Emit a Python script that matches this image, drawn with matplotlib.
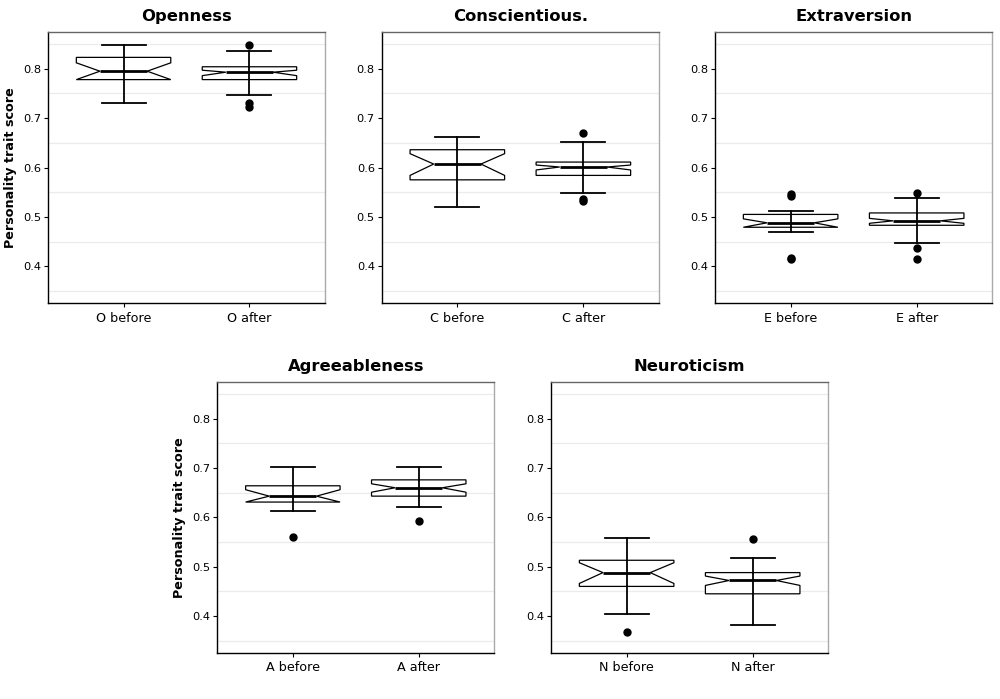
import matplotlib.pyplot as plt

# Boxplot-Kennwerte (je Merkmal: vorher, nachher)
titles = ["Openness", "Conscientious.", "Extraversion", "Agreeableness", "Neuroticism"]
letters = ["O", "C", "E", "A", "N"]
groups = ["before", "after"]

whishi = [[0.849, 0.836], [0.661, 0.652], [0.511, 0.538], [0.703, 0.703], [0.559, 0.518]]
q3 = [[0.823, 0.804], [0.636, 0.611], [0.505, 0.508], [0.664, 0.676], [0.513, 0.488]]
cihi = [[0.812, 0.797], [0.628, 0.605], [0.496, 0.497], [0.656, 0.668], [0.508, 0.481]]
med = [[0.795, 0.793], [0.607, 0.601], [0.488, 0.492], [0.643, 0.660], [0.488, 0.472]]
cilo = [[0.778, 0.786], [0.584, 0.595], [0.479, 0.487], [0.631, 0.651], [0.466, 0.462]]
q1 = [[0.778, 0.778], [0.575, 0.584], [0.479, 0.483], [0.631, 0.643], [0.460, 0.445]]
whislo = [[0.731, 0.746], [0.521, 0.548], [0.470, 0.447], [0.612, 0.621], [0.404, 0.382]]
fliers = [
    [[], [0.849, 0.731, 0.722]],
    [[], [0.669, 0.537, 0.533]],
    [[0.547, 0.543, 0.417, 0.414], [0.548, 0.437, 0.414]],
    [[0.560], [0.592]],
    [[0.367], [0.557]],
]

yticks = [0.4, 0.5, 0.6, 0.7, 0.8]
ygrid = [0.35, 0.45, 0.55, 0.65, 0.75, 0.85]

W, H = 1000, 699
# Achsenpositionen in Pixeln: links, oben, rechts, unten
boxes_px = [
    (48, 31.7, 325, 303.3),
    (381.7, 31.7, 659, 303.3),
    (715, 31.7, 992.3, 303.3),
    (217.3, 381.7, 494.3, 653),
    (551, 381.7, 828.3, 653),
]

fig = plt.figure(figsize=(W / 100, H / 100), dpi=100)
plt.rcParams['font.family'] = ['DejaVu Sans']

for i in range(5):
    l, t, r, b = boxes_px[i]
    ax = fig.add_axes([l / W, (H - b) / H, (r - l) / W, (b - t) / H])
    stats = []
    for j in range(2):
        stats.append({
            'label': letters[i] + " " + groups[j],
            'q1': q1[i][j], 'med': med[i][j], 'q3': q3[i][j],
            'whislo': whislo[i][j], 'whishi': whishi[i][j],
            'cilo': cilo[i][j], 'cihi': cihi[i][j],
            'fliers': fliers[i][j],
        })
    pos = [1, 2]
    ax.bxp(stats, positions=pos, widths=0.75, capwidths=0.35, shownotches=True,
           patch_artist=True,
           boxprops=dict(facecolor='white', edgecolor='black', linewidth=0.9),
           medianprops=dict(color='black', linewidth=2.0),
           whiskerprops=dict(color='black', linewidth=1.3),
           capprops=dict(color='black', linewidth=1.3),
           flierprops=dict(marker='o', markerfacecolor='black', markeredgecolor='black',
                           markersize=5))
    # Fehlerbalken laeuft in ggplot durch die Box
    ax.vlines(pos, [q1[i][0], q1[i][1]], [q3[i][0], q3[i][1]], color='black',
              linewidth=1.3, zorder=5)

    for g in ygrid:
        ax.axhline(g, color='#ebebeb', linewidth=0.9, zorder=0)
    ax.set_xlim(0.4, 2.6)
    ax.set_ylim(0.325, 0.875)
    ax.set_yticks(yticks)
    ax.set_yticklabels([f"{v:.1f}" for v in yticks])
    ax.tick_params(axis='y', labelsize=8.2, length=3, color='black', pad=2)
    ax.tick_params(axis='x', labelsize=9.2, length=3, color='black', pad=3)
    ax.set_title(titles[i], fontsize=11.8, fontweight='bold', pad=8)
    ax.spines['left'].set_color('black')
    ax.spines['bottom'].set_color('black')
    ax.spines['top'].set_color('#666666')
    ax.spines['right'].set_color('#aaaaaa')
    for s in ax.spines.values():
        s.set_linewidth(1.0)
    if i in (0, 3):
        ax.set_ylabel("Personality trait score", fontsize=9.2, fontweight='bold')
        ax.yaxis.set_label_coords(-0.112, 0.5)

fig.savefig('out.png', dpi=100)
